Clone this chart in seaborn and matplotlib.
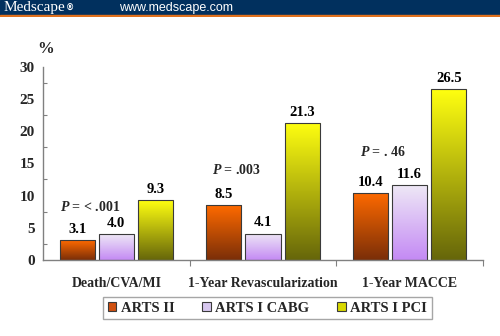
import numpy as np
import pandas as pd
import matplotlib
matplotlib.use("Agg")
import matplotlib.pyplot as plt
import seaborn as sns
from matplotlib.patches import Patch
from matplotlib.colors import LinearSegmentedColormap

categories = ["Death/CVA/MI", "1-Year Revascularization", "1-Year MACCE"]
groups = ["ARTS II", "ARTS I CABG", "ARTS I PCI"]
arts2 = [3.1, 8.5, 10.4]
arts1_cabg = [4.0, 4.1, 11.6]
arts1_pci = [9.3, 21.3, 26.5]
p_labels = ["< .001", ".003", ". 46"]
p_heights = [8.3, 13.9, 16.8]
y_ticks = [0, 5, 10, 15, 20, 25, 30]

rows = []
for g, vals in zip(groups, [arts2, arts1_cabg, arts1_pci]):
    for c, v in zip(categories, vals):
        rows.append({"cat": c, "group": g, "val": v})
df = pd.DataFrame(rows)

# gradient (top, bottom) colours per group
grad = {
    "ARTS II": ("#ff6a00", "#7a2e08"),
    "ARTS I CABG": ("#eee8f6", "#c48af4"),
    "ARTS I PCI": ("#ffff10", "#66660a"),
}
mid = {"ARTS II": "#d05010", "ARTS I CABG": "#d8c8f0", "ARTS I PCI": "#d8d800"}

sns.set_style("white")
plt.rcParams["font.family"] = ["Liberation Serif", "DejaVu Serif"]
plt.rcParams["mathtext.fontset"] = "custom"
plt.rcParams["mathtext.it"] = "Liberation Serif:italic:bold"
plt.rcParams["mathtext.rm"] = "Liberation Serif:bold"
plt.rcParams["mathtext.bf"] = "Liberation Serif:bold"

fig = plt.figure(figsize=(5.0, 3.36), dpi=100)
ax = fig.add_axes([0.086, 0.226, 0.88, 0.5755])

sns.barplot(data=df, x="cat", y="val", hue="group", hue_order=groups,
            order=categories, palette=mid, width=0.8, gap=0.1,
            edgecolor="#3a3a3a", linewidth=0.8, legend=False, ax=ax,
            saturation=1)

# gradient fills clipped to bars
for container, g in zip(ax.containers, groups):
    cmap = LinearSegmentedColormap.from_list(g, [grad[g][1], grad[g][0]])
    for bar in container:
        x0, y0 = bar.get_x(), bar.get_y()
        w, h = bar.get_width(), bar.get_height()
        grad_arr = np.linspace(0, 1, 256).reshape(-1, 1)
        im = ax.imshow(grad_arr, cmap=cmap, aspect="auto", origin="lower",
                       extent=[x0, x0 + w, y0, y0 + h], zorder=bar.get_zorder())
        im.set_clip_path(bar)
        bar.set_facecolor("none")
        bar.set_zorder(bar.get_zorder() + 0.1)
    ax.bar_label(container, fmt="%.1f", padding=3, fontsize=10.5,
                 fontweight="bold", color="black")

ax.set_xlim(-0.5, 2.5)
ax.set_ylim(0, 30)
ax.set_yticks(y_ticks)
ax.set_yticks(np.arange(0, 30.1, 2.5), minor=True)
ax.tick_params(axis="y", which="major", direction="out", length=4,
               width=0.8, color="#808080", labelsize=11, pad=2)
ax.tick_params(axis="y", which="minor", direction="in", length=3,
               width=0.8, color="#808080", left=True)
for lbl in ax.get_yticklabels():
    lbl.set_fontweight("bold")
ax.set_xticks([0, 1, 2])
ax.set_xticklabels(categories, fontsize=10, fontweight="bold")
ax.set_xticks([0.5, 1.5, 2.5], minor=True)
ax.tick_params(axis="x", which="major", length=0, pad=12)
ax.tick_params(axis="x", which="minor", direction="out", length=4,
               width=0.8, color="#808080", bottom=True)
ax.set_xlabel("")
ax.set_ylabel("")
for s in ["top", "right"]:
    ax.spines[s].set_visible(False)
for s in ["left", "bottom"]:
    ax.spines[s].set_color("#808080")
    ax.spines[s].set_linewidth(1.0)

for i, (pl, ph) in enumerate(zip(p_labels, p_heights)):
    ax.text(i - 0.18, ph, r"$\mathit{P}$" + " = " + pl,
            ha="center", va="center", fontsize=10, fontweight="bold")

ax.text(-0.012, 1.05, "%", transform=ax.transAxes, ha="left", va="bottom",
        fontsize=12, fontweight="bold")

handles = [Patch(facecolor=mid[g], edgecolor="#3a3a3a", linewidth=0.8, label=g)
           for g in groups]
leg = fig.legend(handles=handles, loc="center", bbox_to_anchor=(0.535, 0.083),
                 ncol=3, frameon=True, fancybox=False,
                 handlelength=0.6, handleheight=0.6, handletextpad=0.3,
                 columnspacing=1.9, borderpad=0.3, borderaxespad=0,
                 prop={"weight": "bold", "size": 10.5})
leg.get_frame().set_edgecolor("#909090")
leg.get_frame().set_linewidth(1.0)

# header band
hax = fig.add_axes([0, 1 - 17 / 336, 1, 17 / 336])
hax.set_xlim(0, 1)
hax.set_ylim(0, 17)
hax.axhspan(2, 17, color="#01305e")
hax.axhspan(0, 2, color="#e0701c")
hax.axis("off")
hax.text(0.008, 9.5, "Medscape", color="white", fontsize=11,
         family="Liberation Serif", va="center", ha="left")
hax.text(0.132, 8.8, "®", color="white", fontsize=6, family="DejaVu Sans",
         va="center", ha="left", fontweight="bold")
hax.text(0.238, 9.5, "www.medscape.com", color="white", fontsize=9,
         family="Liberation Sans", va="center", ha="left")

fig.savefig("out.png", dpi=100)
